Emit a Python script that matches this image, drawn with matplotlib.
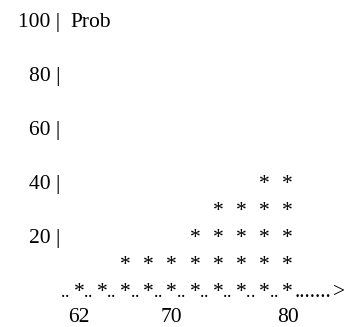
import numpy as np
import matplotlib
matplotlib.use("Agg")
import matplotlib.pyplot as plt
import matplotlib.transforms as mtransforms

# ==========================================
# 1. DATA
# ==========================================
ages = [62, 64, 66, 68, 70, 72, 74, 76, 78, 80]
star_counts = [1, 1, 2, 2, 2, 3, 4, 4, 5, 5]
y_labels = [100, 80, 60, 40, 20]
x_labels = [62, 70, 80]
y_title = "Prob"

row_step = 10  # one text line = 10 units on the vertical scale

plt.rcParams['font.family'] = ['Liberation Serif', 'DejaVu Serif']
fs = 15.5
fs_dot = 13

fig = plt.figure(figsize=(3.44, 3.27), dpi=100)
ax = fig.add_axes([0, 0, 1, 1])
ax.set_axis_off()
ax.set_xlim(55.19, 84.85)
ax.set_ylim(-11.11, 110)

# left "axis": labels with a bar
ytrans = mtransforms.blended_transform_factory(ax.transAxes, ax.transData)
for v in y_labels:
    ax.text(0.175, v, f"{v} |", transform=ytrans, ha='right', va='baseline',
            fontsize=fs, color='black')
ax.text(0.206, y_labels[0], y_title, transform=ytrans, ha='left', va='baseline',
        fontsize=fs, color='black')

# star columns
for x, n in zip(ages, star_counts):
    for j in range(n):
        ax.text(x, j * row_step, "*", ha='center', va='baseline',
                fontsize=fs, color='black')

# dotted baseline with arrow
for x in ages:
    for dx in (-1.38, -1.03):
        ax.text(x + dx, 0, ".", ha='center', va='baseline',
                fontsize=fs_dot, color='black')
ax.text(ages[-1] + 0.6, 0, ".......", ha='left', va='baseline',
        fontsize=fs, color='black')
ax.text(83.9, 0, ">", ha='left', va='baseline', fontsize=fs, color='black')

# bottom labels
for v in x_labels:
    ax.text(v, -row_step + 0.6, str(v), ha='center', va='baseline',
            fontsize=fs, color='black')

fig.savefig("out.png", dpi=100, facecolor='white')
